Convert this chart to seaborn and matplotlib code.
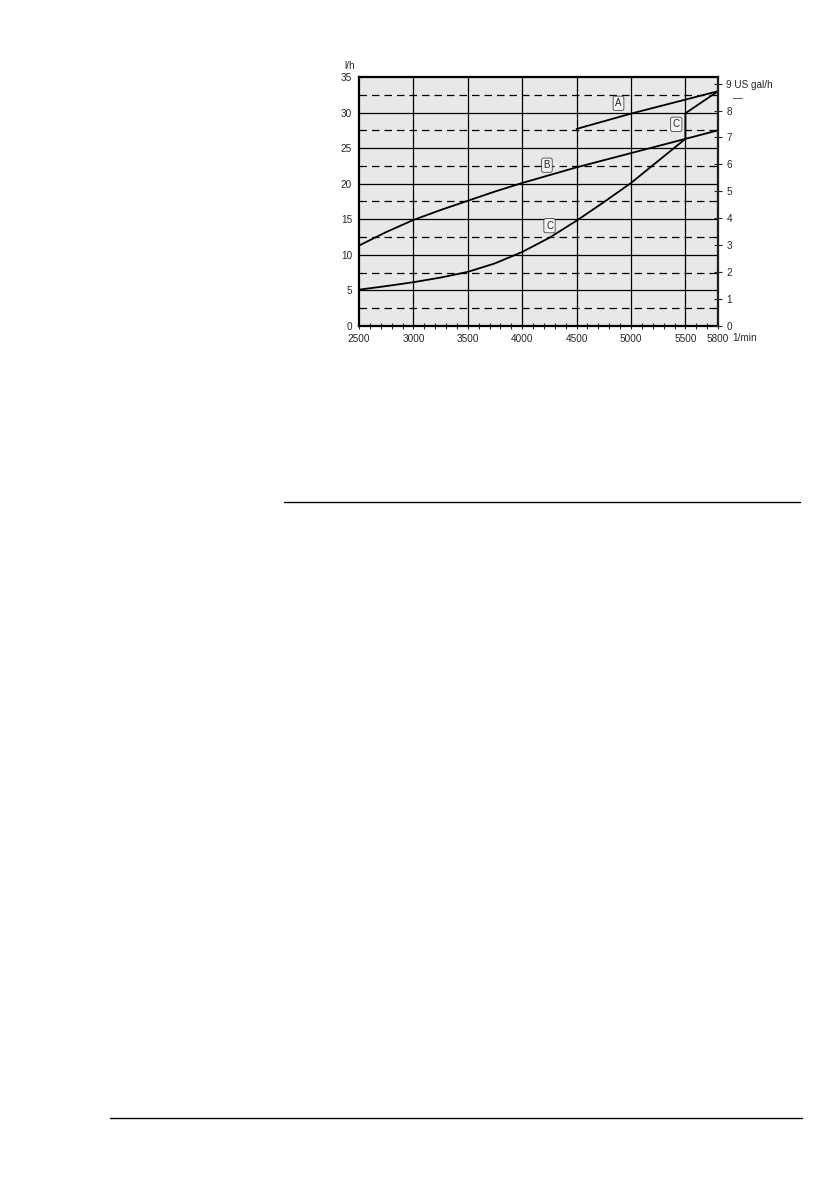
import numpy as np
import pandas as pd
import seaborn as sns
import matplotlib
matplotlib.use('Agg')
import matplotlib.pyplot as plt
from matplotlib import ticker

# curve values (rpm -> l/h)
rpm_a = [4500, 5000, 5800]
flow_a = [27.7, 29.85, 33.0]
rpm_b = [2500, 2750, 3000, 3250, 3500, 3750, 4000, 4250, 4500, 4750, 5000, 5250, 5500, 5800]
flow_b = [11.3, 13.2, 14.9, 16.3, 17.6, 18.9, 20.1, 21.2, 22.3, 23.3, 24.3, 25.3, 26.3, 27.5]
rpm_c = [2500, 2750, 3000, 3250, 3500, 3750, 4000, 4250, 4500, 4750, 5000, 5250, 5500, 5500, 5800]
flow_c = [5.1, 5.6, 6.15, 6.8, 7.6, 8.8, 10.4, 12.4, 14.8, 17.4, 20.1, 23.2, 26.3, 29.9, 33.0]

labels = ['A', 'B', 'C', 'C']
label_x = [4885, 4227, 5416, 4251]
label_y = [31.3, 22.6, 28.35, 14.1]

x_ticks = [2500, 3000, 3500, 4000, 4500, 5000, 5500, 5800]
x_ticklabels = ['2500', '3000', '3500', '4000', '4500', '5000', '5500', '5800']
y_ticks = [0, 5, 10, 15, 20, 25, 30, 35]
gal_ticks = [0, 1, 2, 3, 4, 5, 6, 7, 8, 9]
gal_ticklabels = ['0', '1', '2', '3', '4', '5', '6', '7', '8', '9 US gal/h']
L_PER_GAL = 3.785

frames = []
for name, xs, ys in [('A', rpm_a, flow_a), ('B', rpm_b, flow_b), ('C', rpm_c, flow_c)]:
    frames.append(pd.DataFrame({'rpm': xs, 'flow': ys, 'curve': name}))
df = pd.concat(frames, ignore_index=True)

sns.set_style('white')
plt.rcParams['font.family'] = ['Liberation Sans', 'DejaVu Sans']

fig = plt.figure(figsize=(8.4, 11.9), dpi=100)
ax = fig.add_axes([0.4274, 0.7261, 0.4274, 0.2092])
ax.set_facecolor('#e8e8e8')

# grid
for v in [3000, 3500, 4000, 4500, 5000, 5500]:
    ax.axvline(v, color='black', lw=0.9, zorder=1)
for v in [5, 10, 15, 20, 25, 30]:
    ax.axhline(v, color='black', lw=0.9, zorder=1)
for v in np.arange(2.5, 35, 5):
    ax.axhline(v, color='black', lw=0.9, ls=(0, (6, 4)), zorder=1)

for name in ['A', 'B', 'C']:
    sns.lineplot(data=df[df['curve'] == name], x='rpm', y='flow', color='black',
                 lw=1.3, estimator=None, sort=False, ax=ax, zorder=3)

for t, lx, ly in zip(labels, label_x, label_y):
    ax.text(lx, ly, t, fontsize=7, ha='center', va='center', zorder=4,
            bbox=dict(boxstyle='round,pad=0.22,rounding_size=0.2', fc='#f4f4f4', ec='#444444', lw=0.6))

ax.set_xlim(2500, 5800)
ax.set_ylim(0, 35)
ax.set_xticks(x_ticks)
ax.set_xticklabels(x_ticklabels)
ax.xaxis.set_minor_locator(ticker.MultipleLocator(100))
ax.set_yticks(y_ticks)
ax.tick_params(axis='x', which='both', direction='inout', length=5, width=0.8, labelsize=7.2, pad=3, bottom=True)
ax.tick_params(axis='y', which='both', length=0, labelsize=7.2, pad=5)
ax.set_xlabel(None)
ax.set_ylabel(None)
for s in ax.spines.values():
    s.set_color('black')
    s.set_linewidth(1.6)

ax2 = ax.twinx()
ax2.set_ylim(0, 35 / L_PER_GAL)
ax2.set_yticks(gal_ticks)
ax2.set_yticklabels(gal_ticklabels)
ax2.tick_params(axis='y', direction='inout', length=6, width=0.8, labelsize=7.2, pad=3, right=True)
for s in ax2.spines.values():
    s.set_visible(False)
ax2.spines['right'].set_visible(True)
ax2.spines['right'].set_linewidth(1.2)

fig.text(344 / 840, 1 - 66 / 1190, 'l/h', fontsize=7.2, ha='left', va='center')
fig.text(732 / 840, 1 - 338 / 1190, '1/min', fontsize=7.2, ha='left', va='center')
fig.text(738 / 840, 1 - 98 / 1190, '\u2014', fontsize=7, ha='center', va='center')

# page rules
fig.add_artist(plt.Line2D([284 / 840, 800 / 840], [1 - 502 / 1190] * 2, color='black', lw=1.0))
fig.add_artist(plt.Line2D([110 / 840, 802 / 840], [1 - 1118 / 1190] * 2, color='black', lw=1.0))

fig.savefig('out.png', dpi=100)
